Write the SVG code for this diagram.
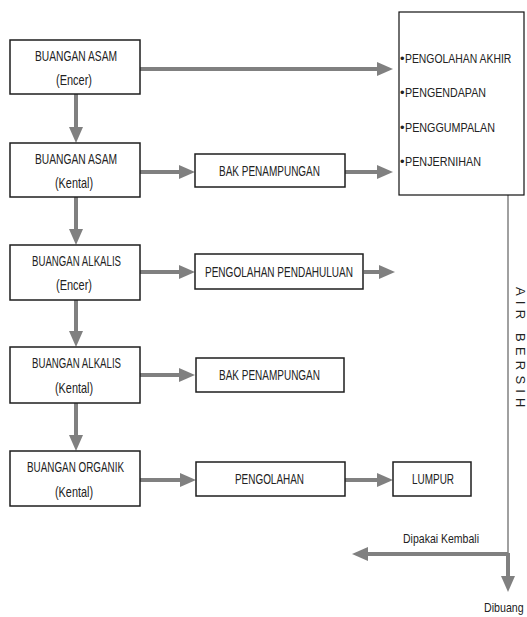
<svg xmlns="http://www.w3.org/2000/svg" width="527" height="617" viewBox="0 0 527 617">
<style>
.box{fill:#fff;stroke:#1e1e1e;stroke-width:1.5}
.big{fill:#fff;stroke:#111;stroke-width:1.2}
.t{font-family:"Liberation Sans",Arial,sans-serif;font-size:15px;fill:#222}
.r{font-family:"Liberation Sans",Arial,sans-serif;font-size:13px;fill:#222}
.s{font-family:"Liberation Sans",Arial,sans-serif;font-size:13px;fill:#222}
.arr{stroke:#808080;stroke-width:4;fill:none;marker-end:url(#ah)}
.thin{stroke:#808080;stroke-width:1.5;fill:none}
</style>
<defs>
<marker id="ah" markerUnits="userSpaceOnUse" markerWidth="16" markerHeight="14" viewBox="0 0 16 14" refX="6" refY="7" orient="auto">
<path d="M0,0 L16,7 L0,14 z" fill="#808080"/>
</marker>
</defs>
<rect width="527" height="617" fill="#fff"/>
<g id="connectors">
<line class="arr" x1="140" y1="69" x2="383" y2="69"/>
<line class="arr" x1="140" y1="172" x2="185" y2="172"/>
<line class="arr" x1="345" y1="172" x2="383" y2="172"/>
<line class="arr" x1="140" y1="272" x2="185" y2="272"/>
<line class="arr" x1="364" y1="272" x2="385" y2="272"/>
<line class="arr" x1="140" y1="375" x2="185" y2="375"/>
<line class="arr" x1="140" y1="480" x2="186" y2="480"/>
<line class="arr" x1="345" y1="480" x2="383" y2="480"/>
<line class="arr" x1="76" y1="94" x2="76" y2="133"/>
<line class="arr" x1="76" y1="197" x2="76" y2="235"/>
<line class="arr" x1="76" y1="300" x2="76" y2="337"/>
<line class="arr" x1="76" y1="403" x2="76" y2="441"/>
<line class="thin" x1="508" y1="195" x2="508" y2="554"/>
<line class="arr" x1="508" y1="554" x2="362" y2="554"/>
<line class="arr" x1="508" y1="553" x2="508" y2="582"/>
</g>
<g id="n1"><rect class="box" x="10" y="40" width="130" height="54"/>
<text class="t" x="35" y="61" textLength="82" lengthAdjust="spacingAndGlyphs">BUANGAN ASAM</text>
<text class="t" x="56" y="85" textLength="36" lengthAdjust="spacingAndGlyphs">(Encer)</text></g>
<g id="n2"><rect class="box" x="10" y="143" width="130" height="54"/>
<text class="t" x="35" y="164" textLength="82" lengthAdjust="spacingAndGlyphs">BUANGAN ASAM</text>
<text class="t" x="55" y="188" textLength="38" lengthAdjust="spacingAndGlyphs">(Kental)</text></g>
<g id="n3"><rect class="box" x="10" y="245" width="130" height="55"/>
<text class="t" x="32" y="266" textLength="89" lengthAdjust="spacingAndGlyphs">BUANGAN ALKALIS</text>
<text class="t" x="56" y="290" textLength="36" lengthAdjust="spacingAndGlyphs">(Encer)</text></g>
<g id="n4"><rect class="box" x="10" y="347" width="130" height="56"/>
<text class="t" x="32" y="368" textLength="89" lengthAdjust="spacingAndGlyphs">BUANGAN ALKALIS</text>
<text class="t" x="55" y="393" textLength="38" lengthAdjust="spacingAndGlyphs">(Kental)</text></g>
<g id="n5"><rect class="box" x="10" y="451" width="130" height="55"/>
<text class="t" x="27" y="472" textLength="97" lengthAdjust="spacingAndGlyphs">BUANGAN ORGANIK</text>
<text class="t" x="55" y="497" textLength="38" lengthAdjust="spacingAndGlyphs">(Kental)</text></g>
<g id="n6"><rect class="box" x="195" y="154" width="150" height="33"/>
<text class="t" x="219" y="176" textLength="101" lengthAdjust="spacingAndGlyphs">BAK PENAMPUNGAN</text></g>
<g id="n7"><rect class="box" x="195" y="254" width="168" height="35"/>
<text class="t" x="205" y="277" textLength="148" lengthAdjust="spacingAndGlyphs">PENGOLAHAN PENDAHULUAN</text></g>
<g id="n8"><rect class="box" x="196" y="358" width="148" height="34"/>
<text class="t" x="219" y="380" textLength="101" lengthAdjust="spacingAndGlyphs">BAK PENAMPUNGAN</text></g>
<g id="n9"><rect class="box" x="196" y="462" width="149" height="34"/>
<text class="t" x="235" y="484" textLength="69" lengthAdjust="spacingAndGlyphs">PENGOLAHAN</text></g>
<g id="n10"><rect class="box" x="393" y="462" width="78" height="34"/>
<text class="t" x="412" y="484" textLength="42" lengthAdjust="spacingAndGlyphs">LUMPUR</text></g>
<g id="n11"><rect class="big" x="399" y="12" width="125" height="183"/>
<text class="r" x="400" y="63">•</text>
<text class="r" transform="translate(405 63) scale(0.8 1)">PENGOLAHAN AKHIR</text>
<text class="r" x="400" y="97">•</text>
<text class="r" x="405" y="97" textLength="81" lengthAdjust="spacingAndGlyphs">PENGENDAPAN</text>
<text class="r" x="400" y="132">•</text>
<text class="r" x="405" y="132" textLength="90" lengthAdjust="spacingAndGlyphs">PENGGUMPALAN</text>
<text class="r" x="400" y="166">•</text>
<text class="r" x="405" y="166" textLength="76" lengthAdjust="spacingAndGlyphs">PENJERNIHAN</text></g>
<g id="labels">
<text class="s" x="516" y="287" transform="rotate(90 516 287)" font-size="11" letter-spacing="5.2">AIR BERSIH</text>
<text class="s" x="403" y="543" textLength="76" lengthAdjust="spacingAndGlyphs">Dipakai Kembali</text>
<text class="s" font-size="12" transform="translate(484 612) scale(0.82 1)">Dibuang</text>
</g>
</svg>
